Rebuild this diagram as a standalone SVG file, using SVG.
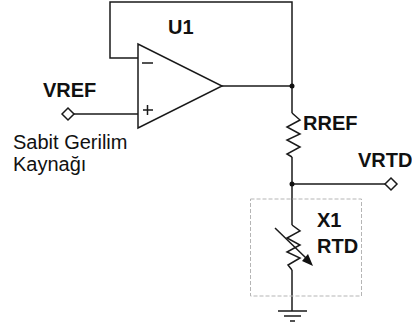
<svg xmlns="http://www.w3.org/2000/svg" width="412" height="325" viewBox="0 0 412 325">
<style>
.w{fill:none;stroke:#1a1a1a;stroke-width:1.5;stroke-linejoin:miter}
.b{font-family:"Liberation Sans",Arial,sans-serif;font-weight:bold;font-size:20px;fill:#111}
.r{font-family:"Liberation Sans",Arial,sans-serif;font-size:20px;fill:#111}
.d{fill:#111}
.p{fill:#fff;stroke:#1a1a1a;stroke-width:1.5}
</style>
<rect width="412" height="325" fill="#fff"/>
<g id="connectors">
<path class="w" d="M138 58H110V2H292V113"/>
<path class="w" d="M74 114H138"/>
<path class="w" d="M222 86H292"/>
<path class="w" d="M292 157V184H385"/>
<path class="w" d="M292 184V225"/>
<path class="w" d="M292 270V311"/>
<circle class="d" cx="292" cy="86" r="2.500"/>
<circle class="d" cx="292" cy="184" r="2.500"/>
</g>
<g id="U1">
<path class="p" d="M138 44V128L222 86Z"/>
<path class="w" d="M142 63H153M143 110H153M147.500 105V115"/>
<text class="b" x="168" y="34">U1</text>
</g>
<g id="VREF">
<path class="p" d="M62 114L68 108L74 114L68 120Z"/>
<text class="b" x="43" y="97">VREF</text>
</g>
<g id="source-label">
<text class="r" x="13" y="149">Sabit Gerilim</text>
<text class="r" x="13" y="171">Kaynağı</text>
</g>
<g id="RREF">
<path class="w" d="M292 113L300 120L287 127L300 134L287 140L300 147L287 154L292 157"/>
<text class="b" x="303" y="130">RREF</text>
</g>
<g id="VRTD">
<path class="p" d="M385 184L391 178L397 184L391 190Z"/>
<text class="b" x="358" y="167">VRTD</text>
</g>
<g id="X1">
<rect x="250.500" y="199" width="111" height="97" fill="none" stroke="#b5b5b5" stroke-width="1" stroke-dasharray="4 2"/>
<path class="w" d="M292 225L300 231L287 238L300 245L287 252L300 258L288 265L292 270"/>
<path class="w" d="M275 228L306 258"/>
<path class="d" d="M313 266L302 261L308 254Z"/>
<text class="b" x="317" y="227">X1</text>
<text class="b" x="317" y="253">RTD</text>
</g>
<g id="ground">
<path class="w" d="M278 311H307M284 316H301M290 321H295"/>
</g>
</svg>
